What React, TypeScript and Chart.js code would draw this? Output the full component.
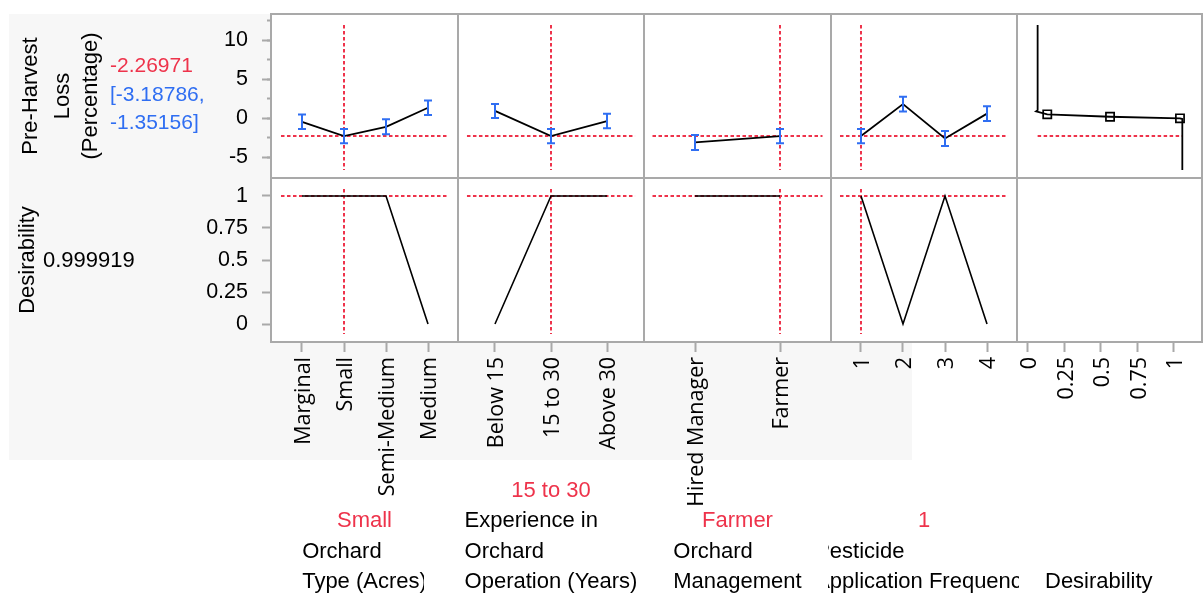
import React, { useEffect, useRef } from "react";
import { Chart, registerables } from "chart.js";

Chart.register(...registerables);

// ---------------- data ----------------
const responseName = ["Pre-Harvest", "Loss", "(Percentage)"];
const predictedLossText = "-2.26971";
const predictedCIText = ["[-3.18786,", "-1.35156]"];
const currentLoss = -2.26971;
const desirabilityName = "Desirability";
const overallDesirabilityText = "0.999919";

const orchardTypes = ["Marginal", "Small", "Semi-Medium", "Medium"];
const orchardTypeLoss = [-0.45, -2.27, -1.08, 1.35];
const orchardTypeLower = [-1.37, -3.19, -2.03, 0.42];
const orchardTypeUpper = [0.49, -1.35, -0.12, 2.27];
const orchardTypeDesir = [1, 1, 1, 0];

const experienceLevels = ["Below 15", "15 to 30", "Above 30"];
const experienceLoss = [0.95, -2.27, -0.35];
const experienceLower = [0.03, -3.19, -1.28];
const experienceUpper = [1.84, -1.35, 0.59];
const experienceDesir = [0, 1, 1];

const managementLevels = ["Hired Manager", "Farmer"];
const managementLoss = [-3.08, -2.27];
const managementLower = [-4.04, -3.19];
const managementUpper = [-2.12, -1.35];
const managementDesir = [1, 1];

const frequencyLevels = [1, 2, 3, 4];
const frequencyLoss = [-2.27, 1.82, -2.57, 0.6];
const frequencyLower = [-3.19, 0.86, -3.53, -0.35];
const frequencyUpper = [-1.35, 2.76, -1.62, 1.55];
const frequencyDesir = [1, 0, 1, 0];

// desirability function (x = desirability, y = response)
const desirFnX = [0.066, 0.066, 0.055, 0.132, 0.562, 1.041, 1.057, 1.057];
const desirFnY = [11.93, 1.05, 0.9, 0.51, 0.2, 0.0, -0.09, -6.61];
const desirMarkX = [0.132, 0.562, 1.041];
const desirMarkY = [0.51, 0.2, 0.0];

const lossTicks = [-5, 0, 5, 10];
const lossMinorTicks = [-5, -2.5, 0, 2.5, 5, 7.5, 10, 12.5];
const desirTicks = [0, 0.25, 0.5, 0.75, 1];
const desirTickLabels = ["0", "0.25", "0.5", "0.75", "1"];

const factorNameLines = [
  ["Orchard", "Type (Acres)"],
  ["Experience in", "Orchard", "Operation (Years)"],
  ["Orchard", "Management"],
  ["Pesticide", "Application Frequency"],
];
const factorCurrentLabels = ["Small", "15 to 30", "Farmer", "1"];

// ---------------- style / layout ----------------
const W = 1203;
const H = 594;
const GRID = "#a9a9a9";
const RED = "#ee334b";
const BLUE = "#2f6ef2";
const LABEL_FONT = '"Liberation Sans", Arial, sans-serif';
const TICK_FONT = '"Open Sans", sans-serif';
const colEdges = [271, 458, 644, 831, 1017, 1202];
const rowEdges = [14, 178, 342];
const LOSS_RANGE = [-7.63, 13.34];
const DESIR_RANGE = [-0.1406, 1.1406];

type Panel = {
  rect: number[];
  xMin: number;
  xMax: number;
  yMin: number;
  yMax: number;
  datasets: any[];
  errorBars?: { xs: number[]; lower: number[]; upper: number[] };
  yAxis?: "loss" | "desir";
  xAxis?: { values: number[]; labels: string[] };
};

const lineDs = (data: any[], color: string, width: number, dash: number[] = []) => ({
  data,
  borderColor: color,
  borderWidth: width,
  borderDash: dash,
  pointRadius: 0,
  fill: false,
  tension: 0,
  xAxisID: "x",
  yAxisID: "y",
});
const redDash = (data: any[]) => lineDs(data, RED, 2, [3.5, 2.5]);

function buildPanels(): Panel[] {
  const factors = [
    { levels: orchardTypes.map((_, i) => i), labels: orchardTypes, loss: orchardTypeLoss, lower: orchardTypeLower, upper: orchardTypeUpper, desir: orchardTypeDesir, current: 1, range: [-0.738, 3.714] },
    { levels: experienceLevels.map((_, i) => i), labels: experienceLevels, loss: experienceLoss, lower: experienceLower, upper: experienceUpper, desir: experienceDesir, current: 1, range: [-0.66, 2.66] },
    { levels: managementLevels.map((_, i) => i), labels: managementLevels, loss: managementLoss, lower: managementLower, upper: managementUpper, desir: managementDesir, current: 1, range: [-0.6, 1.6] },
    { levels: frequencyLevels, labels: frequencyLevels.map(String), loss: frequencyLoss, lower: frequencyLower, upper: frequencyUpper, desir: frequencyDesir, current: 1, range: [0.286, 4.714] },
  ];
  const row1: Panel[] = [];
  const row2: Panel[] = [];
  factors.forEach((f, c) => {
    const first = f.levels[0];
    const last = f.levels[f.levels.length - 1];
    row1.push({
      rect: [colEdges[c], rowEdges[0], colEdges[c + 1], rowEdges[1]],
      xMin: f.range[0], xMax: f.range[1], yMin: LOSS_RANGE[0], yMax: LOSS_RANGE[1],
      yAxis: c === 0 ? "loss" : undefined,
      datasets: [
        lineDs(f.levels.map((x, i) => ({ x, y: f.loss[i] })), "#000", 1.8),
        redDash([{ x: first - 0.5, y: currentLoss }, { x: last + 0.5, y: currentLoss }]),
        redDash([{ x: f.current, y: 11.93 }, { x: f.current, y: -6.61 }]),
      ],
      errorBars: { xs: f.levels, lower: f.lower, upper: f.upper },
    });
    row2.push({
      rect: [colEdges[c], rowEdges[1], colEdges[c + 1], rowEdges[2]],
      xMin: f.range[0], xMax: f.range[1], yMin: DESIR_RANGE[0], yMax: DESIR_RANGE[1],
      yAxis: c === 0 ? "desir" : undefined,
      xAxis: { values: f.levels, labels: f.labels },
      datasets: [
        lineDs(f.levels.map((x, i) => ({ x, y: f.desir[i] })), "#000", 1.6),
        redDash([{ x: first - 0.5, y: 1 }, { x: last + 0.5, y: 1 }]),
        redDash([{ x: f.current, y: 1.055 }, { x: f.current, y: -0.078 }]),
      ],
    });
  });
  row1.push({
    rect: [colEdges[4], rowEdges[0], colEdges[5], rowEdges[1]],
    xMin: -0.0753, xMax: 1.1918, yMin: LOSS_RANGE[0], yMax: LOSS_RANGE[1],
    datasets: [
      lineDs(desirFnX.map((x, i) => ({ x, y: desirFnY[i] })), "#000", 1.8),
      {
        data: desirMarkX.map((x, i) => ({ x, y: desirMarkY[i] })),
        showLine: false,
        pointStyle: "rect",
        pointRadius: 5.8,
        pointBorderWidth: 1.7,
        pointBorderColor: "#000",
        pointBackgroundColor: "rgba(255,255,255,0)",
        borderColor: "#000",
        xAxisID: "x",
        yAxisID: "y",
      },
      redDash([{ x: 0.066, y: currentLoss }, { x: 1.055, y: currentLoss }]),
    ],
  });
  row2.push({
    rect: [colEdges[4], rowEdges[1], colEdges[5], rowEdges[2]],
    xMin: -0.0753, xMax: 1.1918, yMin: DESIR_RANGE[0], yMax: DESIR_RANGE[1],
    xAxis: { values: desirTicks, labels: desirTickLabels },
    datasets: [],
  });
  return [...row1, ...row2];
}

const zeroPad = (s: any) => {
  s.paddingLeft = 0;
  s.paddingRight = 0;
  s.paddingTop = 0;
  s.paddingBottom = 0;
};

const framePlugin = {
  id: "panelFrame",
  beforeDraw(chart: any) {
    const { left, top, right, bottom } = chart.chartArea;
    const ctx = chart.ctx;
    ctx.save();
    ctx.fillStyle = "#fff";
    ctx.fillRect(left, top, right - left, bottom - top);
    ctx.restore();
  },
  afterDraw(chart: any) {
    const { left, top, right, bottom } = chart.chartArea;
    const ctx = chart.ctx;
    ctx.save();
    ctx.strokeStyle = GRID;
    ctx.lineWidth = 2;
    ctx.strokeRect(left, top, right - left, bottom - top);
    ctx.restore();
  },
};

function errorBarPlugin(eb: { xs: number[]; lower: number[]; upper: number[] }) {
  return {
    id: "errorBars",
    afterDatasetsDraw(chart: any) {
      const xS = chart.scales.x;
      const yS = chart.scales.y;
      const ctx = chart.ctx;
      ctx.save();
      ctx.strokeStyle = BLUE;
      ctx.lineWidth = 2;
      eb.xs.forEach((x, i) => {
        const px = Math.round(xS.getPixelForValue(x));
        const y1 = yS.getPixelForValue(eb.upper[i]);
        const y2 = yS.getPixelForValue(eb.lower[i]);
        ctx.beginPath();
        ctx.moveTo(px, y1);
        ctx.lineTo(px, y2);
        ctx.moveTo(px - 4, y1);
        ctx.lineTo(px + 4, y1);
        ctx.moveTo(px - 4, y2);
        ctx.lineTo(px + 4, y2);
        ctx.stroke();
      });
      ctx.restore();
    },
  };
}

function rotText(ctx: CanvasRenderingContext2D, s: string, x: number, yc: number) {
  ctx.save();
  ctx.translate(x, yc);
  ctx.rotate(-Math.PI / 2);
  ctx.textAlign = "center";
  ctx.textBaseline = "alphabetic";
  ctx.fillText(s, 0, 0);
  ctx.restore();
}

const textPlugin = {
  id: "profilerText",
  afterDraw(chart: any) {
    const ctx: CanvasRenderingContext2D = chart.ctx;
    ctx.save();
    ctx.textBaseline = "alphabetic";
    ctx.fillStyle = "#000";
    ctx.font = `22px ${LABEL_FONT}`;
    const rowMid1 = (rowEdges[0] + rowEdges[1]) / 2;
    const rowMid2 = (rowEdges[1] + rowEdges[2]) / 2;
    const nameX = [37, 69, 97];
    responseName.forEach((s, k) => rotText(ctx, s, nameX[k], rowMid1));
    rotText(ctx, desirabilityName, 34, rowMid2);
    ctx.textAlign = "left";
    ctx.fillText(overallDesirabilityText, 43, 267);
    ctx.font = `21px ${LABEL_FONT}`;
    ctx.fillStyle = RED;
    ctx.fillText(predictedLossText, 110, 72);
    ctx.fillStyle = BLUE;
    ctx.fillText(predictedCIText[0], 110, 101);
    ctx.fillText(predictedCIText[1], 110, 129);

    // factor labels under the columns
    const clips = [[271, 424], [458, 636], [644, 831], [828, 1019]];
    ctx.font = `22px ${LABEL_FONT}`;
    factorNameLines.forEach((lines, c) => {
      const cx = (colEdges[c] + colEdges[c + 1]) / 2;
      ctx.save();
      ctx.beginPath();
      ctx.rect(clips[c][0], 440, clips[c][1] - clips[c][0], 160);
      ctx.clip();
      const maxW = Math.max(...lines.map((s) => ctx.measureText(s).width));
      const left = cx - maxW / 2;
      const n = lines.length;
      ctx.fillStyle = "#000";
      ctx.textAlign = "left";
      lines.forEach((s, k) => ctx.fillText(s, left, 588 - (n - 1 - k) * 30.5));
      ctx.fillStyle = RED;
      ctx.textAlign = "center";
      ctx.fillText(factorCurrentLabels[c], cx, 588 - n * 30.5);
      ctx.restore();
    });
    ctx.fillStyle = "#000";
    ctx.textAlign = "left";
    ctx.fillText(desirabilityName, 1045, 588);
    ctx.restore();
  },
};

function makeConfig(p: Panel, extra: any[]): any {
  const [l, t, r, b] = p.rect;
  const yW = p.yAxis ? 71 : 0;
  const xH = p.xAxis ? 245 : 0;
  const scales: any = {
    x: {
      type: "linear",
      position: "bottom",
      min: p.xMin,
      max: p.xMax,
      display: !!p.xAxis,
      grid: { drawOnChartArea: false, tickLength: 10, tickColor: GRID, tickWidth: 2 },
      border: { display: false },
      ticks: {
        autoSkip: false,
        minRotation: 90,
        maxRotation: 90,
        padding: 5,
        labelOffset: 2,
        color: "#000",
        font: { family: TICK_FONT, size: 21.5 },
        callback: (_v: any, i: number) => (p.xAxis ? p.xAxis.labels[i] : ""),
      },
    },
    y: {
      type: "linear",
      position: "left",
      min: p.yMin,
      max: p.yMax,
      display: !!p.yAxis,
      weight: 10,
      grid: { drawOnChartArea: false, tickLength: 9, tickColor: GRID, tickWidth: 2 },
      border: { display: false },
      ticks: { padding: 14, color: "#000", font: { family: LABEL_FONT, size: 21.5 }, callback: (v: number) => String(v) },
    },
  };
  if (p.xAxis) {
    const vals = p.xAxis.values;
    scales.x.afterBuildTicks = (s: any) => {
      s.ticks = vals.map((v) => ({ value: v }));
    };
    scales.x.afterFit = (s: any) => {
      s.height = xH;
      zeroPad(s);
    };
  }
  if (p.yAxis) {
    const vals = p.yAxis === "loss" ? lossTicks : desirTicks;
    scales.y.afterBuildTicks = (s: any) => {
      s.ticks = vals.map((v) => ({ value: v }));
    };
    scales.y.afterFit = (s: any) => {
      s.width = yW;
      zeroPad(s);
    };
    if (p.yAxis === "loss") {
      scales.yMinor = {
        type: "linear",
        position: "left",
        min: p.yMin,
        max: p.yMax,
        weight: 0,
        afterBuildTicks: (s: any) => {
          s.ticks = lossMinorTicks.map((v) => ({ value: v }));
        },
        afterFit: (s: any) => {
          s.width = 0;
          zeroPad(s);
        },
        grid: { drawOnChartArea: false, tickLength: 4, tickColor: GRID, tickWidth: 2 },
        border: { display: false },
        ticks: { display: false },
      };
    }
  }
  const plugins: any[] = [framePlugin, ...extra];
  if (p.errorBars) plugins.push(errorBarPlugin(p.errorBars));
  return {
    type: "line",
    data: { datasets: p.datasets },
    options: {
      responsive: false,
      maintainAspectRatio: false,
      animation: false,
      devicePixelRatio: 1,
      events: [],
      layout: {
        autoPadding: false,
        padding: { left: l - yW, top: t, right: W - r, bottom: H - b - xH },
      },
      plugins: { legend: { display: false }, tooltip: { enabled: false }, title: { display: false } },
      scales,
    },
    plugins,
  };
}

export default function App() {
  const refs = useRef<(HTMLCanvasElement | null)[]>([]);
  useEffect(() => {
    const panels = buildPanels();
    const charts = panels.map((p, i) => new Chart(refs.current[i] as HTMLCanvasElement, makeConfig(p, i === 0 ? [textPlugin] : [])));
    return () => charts.forEach((c) => c.destroy());
  }, []);
  return (
    <div style={{ position: "absolute", left: 0, top: 0, width: W, height: H, background: "#fff", overflow: "hidden" }}>
      <div style={{ position: "absolute", left: 9, top: 14, width: 903, height: 446, background: "#f7f7f7" }} />
      {Array.from({ length: 10 }).map((_, i) => (
        <canvas
          key={i}
          ref={(el) => {
            refs.current[i] = el;
          }}
          width={W}
          height={H}
          style={{ position: "absolute", left: 0, top: 0, width: W, height: H }}
        />
      ))}
    </div>
  );
}
